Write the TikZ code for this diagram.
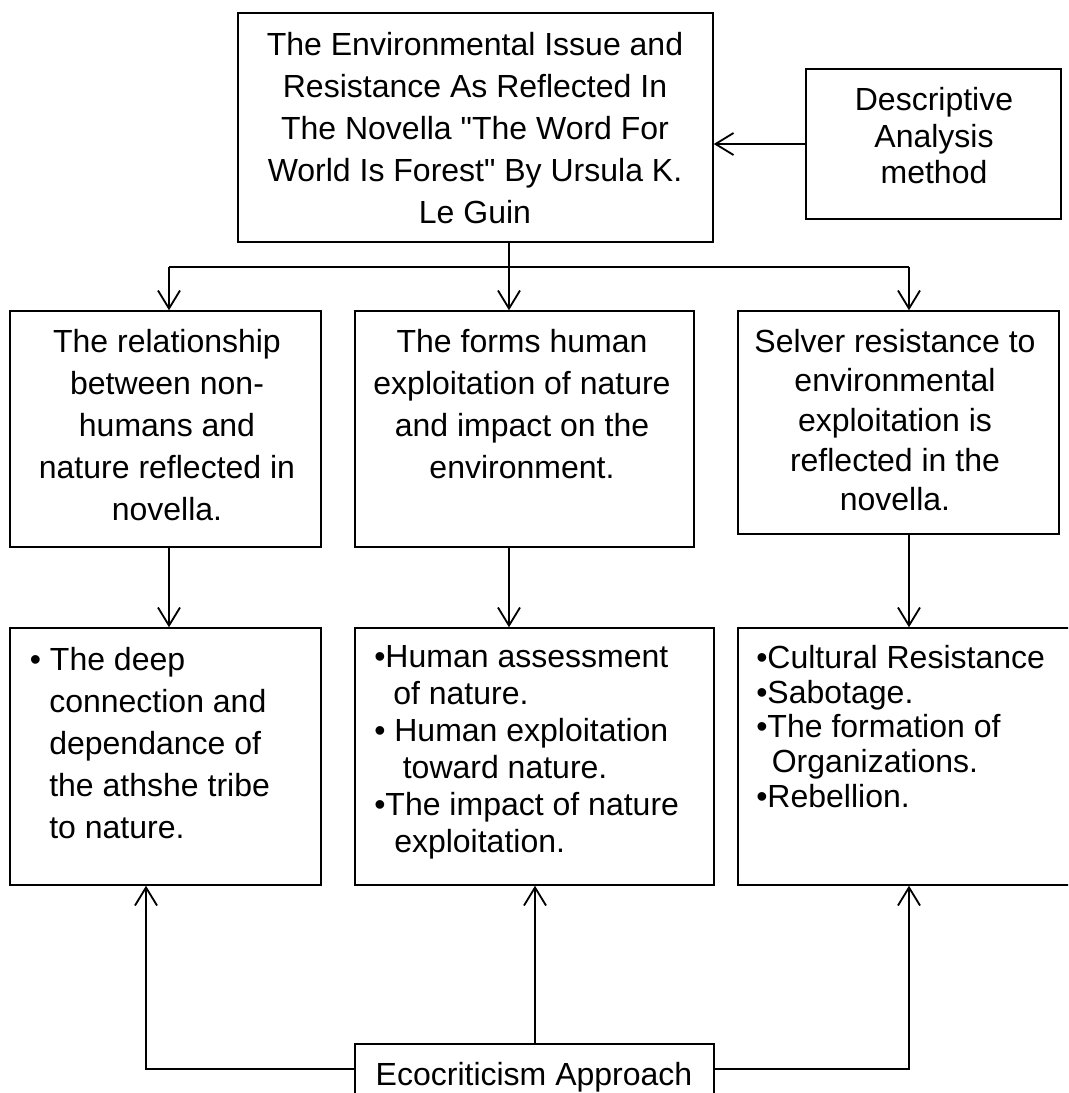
\documentclass[tikz,border=0pt]{standalone}
\usepackage{fontspec}
\setmainfont{Liberation Sans}[Ligatures=TeXOff]
\usetikzlibrary{arrows.meta,positioning}

\begin{document}
\begin{tikzpicture}[x=0.025cm,y=-0.025cm,
box/.style={draw,line width=1pt,inner sep=0pt},
txt/.style={inner sep=0pt,font=\fontsize{22.76}{29.9}\selectfont},
wire/.style={line width=1.3pt},
arr/.style={line width=1.3pt,-{Straight Barb[length=0.45cm,width=0.55cm]}}]
\useasboundingbox (0,0) rectangle (1068,1093);
\clip (0,0) rectangle (1068,1093);
\node[box,minimum width=11.875cm,minimum height=5.725cm] (issue) at (475.5,127.5) {};
\node[box,minimum width=6.375cm,minimum height=3.75cm] (method) at (933.5,144) {};
\node[box,minimum width=7.775cm,minimum height=5.9cm] (rel) at (165.5,429) {};
\node[box,minimum width=8.475cm,minimum height=5.9cm] (forms) at (524.5,429) {};
\node[box,minimum width=8.025cm,minimum height=5.575cm] (selver) at (898.5,422.5) {};
\node[box,minimum width=7.775cm,minimum height=6.425cm] (deep) at (165.5,756.5) {};
\node[box,minimum width=8.975cm,minimum height=6.425cm] (impact) at (534.5,756.5) {};
\node[box,minimum width=9cm,minimum height=6.425cm] (resist) at (918,756.5) {};
\node[box,minimum width=8.975cm,minimum height=1.65cm] (eco) at (534.5,1077) {};

\node[txt,align=center,anchor=north] (issuetxt) at (475,32) {The Environmental Issue and\\Resistance As Reflected In\\The Novella "The Word For\\World Is Forest" By Ursula K.\\Le Guin};
\node[txt,align=center,anchor=north,font=\fontsize{22.76}{26}\selectfont] (methodtxt) at (934,87) {Descriptive\\Analysis\\method};
\node[txt,align=center,anchor=north] (reltxt) at (167,329) {The relationship\\between non-\\humans and\\nature reflected in\\novella.};
\node[txt,align=center,anchor=north] (formstxt) at (522,329) {The forms human\\exploitation of nature\\and impact on the\\environment.};
\node[txt,align=center,anchor=north,font=\fontsize{22.76}{28.1}\selectfont] (selvertxt) at (895,329) {Selver resistance to\\environmental\\exploitation is\\reflected in the\\novella.};
\node[txt,align=left,anchor=north west] (deeptxt) at (29.6,647) {• The deep\\\hspace*{13.8pt}connection and\\\hspace*{13.8pt}dependance of\\\hspace*{13.8pt}the athshe tribe\\\hspace*{13.8pt}to nature.};
\node[txt,align=left,anchor=north west,font=\fontsize{22.76}{26.3}\selectfont] (impacttxt) at (374,645) {•Human assessment\\\hspace*{13.5pt}of nature.\\• Human exploitation\\\hspace*{20.3pt}toward nature.\\•The impact of nature\\\hspace*{14.2pt}exploitation.};
\node[txt,align=left,anchor=north west,font=\fontsize{22.76}{24.7}\selectfont] (resisttxt) at (756,645) {•Cultural Resistance\\•Sabotage.\\•The formation of\\\hspace*{11pt}Organizations.\\•Rebellion.};
\node[txt,anchor=north] (ecotxt) at (534,1062) {Ecocriticism Approach};

\coordinate (bus) at (0,267);
\coordinate (ecoline) at (0,1069);
\coordinate (colA) at (169,0);
\coordinate (colB) at (509,0);
\coordinate (colC) at (909,0);
\coordinate (upA) at (146,0);
\coordinate (upB) at (535,0);

\draw[arr] (method.west) -- (issue.east |- method.west);
\draw[wire] (issue.south -| colB) -- (colB |- bus);
\draw[wire] (colA |- bus) -- (colC |- bus);
\foreach \c/\b in {colA/rel,colB/forms,colC/selver}
  \draw[arr] (\c |- bus) -- (\b.north -| \c);
\foreach \c/\a/\b in {colA/rel/deep,colB/forms/impact,colC/selver/resist}
  \draw[arr] (\a.south -| \c) -- (\b.north -| \c);
\draw[arr] (eco.west |- ecoline) -| (deep.south -| upA);
\draw[arr] (eco.north -| upB) -- (impact.south -| upB);
\draw[arr] (eco.east |- ecoline) -| (resist.south -| colC);
\end{tikzpicture}
\end{document}
